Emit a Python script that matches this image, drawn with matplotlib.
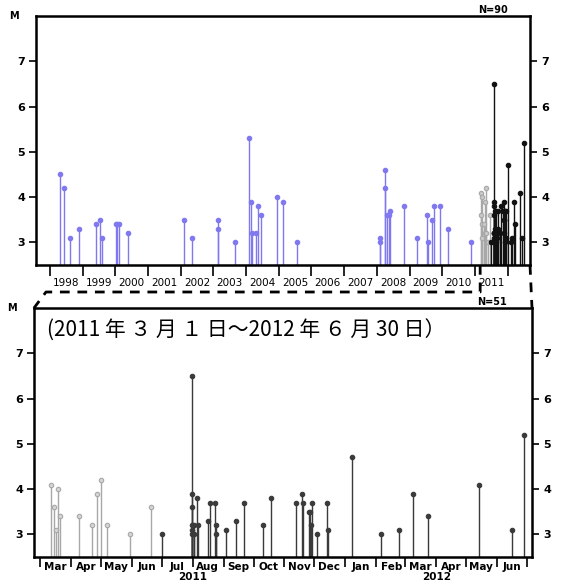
#!/usr/bin/env python3
"""Earthquake magnitude-time plot: 1998-2012 overview and 2011-03 .. 2012-06 zoom."""

import matplotlib
matplotlib.use("Agg")
import matplotlib.pyplot as plt
import matplotlib.dates as mdates
from matplotlib.lines import Line2D
import pandas as pd

# background events 1998 - 2010 (blue)
old_dates = [
    "1998-04-23", "1998-06-10", "1998-08-11", "1998-11-24",
    "1999-05-26", "1999-07-13", "1999-07-31",
    "2000-01-03", "2000-01-24", "2000-02-14", "2000-05-16",
    "2002-02-07", "2002-05-05",
    "2003-02-21", "2003-02-21", "2003-09-02",
    "2004-01-30", "2004-02-21", "2004-03-10", "2004-04-23", "2004-05-11",
    "2004-06-17", "2004-12-13",
    "2005-02-14", "2005-07-20",
    "2008-02-10", "2008-02-10", "2008-04-01", "2008-04-01", "2008-04-27",
    "2008-05-11", "2008-05-30", "2008-11-03",
    "2009-03-22", "2009-07-13", "2009-07-31", "2009-09-06", "2009-10-05",
    "2009-12-02",
    "2010-03-04", "2010-11-24",
]
old_mags = [
    4.5, 4.2, 3.1, 3.3,
    3.4, 3.5, 3.1,
    3.4, 3.4, 3.4, 3.2,
    3.5, 3.1,
    3.5, 3.3, 3.0,
    5.3, 3.9, 3.2, 3.2, 3.8,
    3.6, 4.0,
    3.9, 3.0,
    3.1, 3.0, 4.6, 4.2, 3.6,
    3.6, 3.7, 3.8,
    3.1, 3.6, 3.0, 3.5, 3.8,
    3.8,
    3.3, 3.0,
]

# events after 2011-03-01, early group (Mar - Jun 2011, light grey)
early_dates = [
    "2011-03-12", "2011-03-15", "2011-03-17", "2011-03-19", "2011-03-21",
    "2011-04-09", "2011-04-22", "2011-04-27", "2011-05-01", "2011-05-07",
    "2011-05-30", "2011-06-20",
]
early_mags = [4.1, 3.6, 3.1, 4.0, 3.4, 3.4, 3.2, 3.9, 4.2, 3.2, 3.0, 3.6]

# late group (Jul 2011 - Jun 2012, dark)
late_dates = [
    "2011-07-01",
    "2011-07-31", "2011-07-31", "2011-07-31", "2011-07-31", "2011-07-31",
    "2011-07-31", "2011-08-02", "2011-08-02",
    "2011-08-05", "2011-08-06", "2011-08-16", "2011-08-18", "2011-08-23",
    "2011-08-24", "2011-08-24",
    "2011-09-03", "2011-09-13", "2011-09-21",
    "2011-10-10", "2011-10-18",
    "2011-11-13", "2011-11-19", "2011-11-20", "2011-11-26", "2011-11-27",
    "2011-11-28", "2011-11-29",
    "2011-12-04", "2011-12-14", "2011-12-15",
    "2012-01-08",
    "2012-02-06", "2012-02-24", "2012-03-09", "2012-03-24", "2012-05-14",
    "2012-06-16", "2012-06-28",
]
late_mags = [
    3.0,
    6.5, 3.9, 3.6, 3.2, 3.1,
    3.0, 3.2, 3.0,
    3.8, 3.2, 3.3, 3.7, 3.7,
    3.2, 3.0,
    3.1, 3.3, 3.7,
    3.2, 3.8,
    3.7, 3.9, 3.7, 3.5, 3.5,
    3.2, 3.7,
    3.0, 3.7, 3.1,
    4.7,
    3.0, 3.1, 3.9, 3.4, 4.1,
    3.1, 5.2,
]

years = list(range(1998, 2012))
year_ticks = list(range(1998, 2013))
mag_ticks = [3, 4, 5, 6, 7]
jp_title = "(2011 年 ３ 月 １ 日～2012 年 ６ 月 30 日）"

BLUE = "#8078ee"
LIGHT = "#a8a8a8"
DARK = "#3a3a3a"
YMIN, YMAX = 2.5, 8.0

W, H = 562, 582
fig = plt.figure(figsize=(W / 100, H / 100), dpi=100)
fig.patch.set_facecolor("white")


def px_rect(x0, y0, x1, y1):
    return [x0 / W, 1 - y1 / H, (x1 - x0) / W, (y1 - y0) / H]


def stems(ax, dates, mags, color, face=None, ms=3.2):
    d = pd.to_datetime(dates)
    ax.vlines(d, YMIN, mags, colors=color, lw=1.0, zorder=2)
    ax.plot(d, mags, "o", ms=ms, color=color, mfc=face or color, mec=color,
            mew=0.8, zorder=3)


def style_axes(ax):
    for sp in ax.spines.values():
        sp.set_linewidth(1.8)
    ax.set_ylim(YMIN, YMAX)
    ax.set_yticks(mag_ticks)
    ax.tick_params(axis="y", which="major", direction="out", length=5,
                   width=1.2, labelsize=8, left=True, right=True,
                   labelleft=True, labelright=True, pad=3)
    for lab in ax.get_yticklabels():
        lab.set_fontweight("bold")
    ax.tick_params(axis="x", which="major", direction="out", length=8,
                   width=1.2, labelbottom=False)
    ax.tick_params(axis="x", which="minor", length=0, labelsize=7.5)


# ---- top panel: whole period
ax1 = fig.add_axes(px_rect(36, 16, 530, 265))
stems(ax1, old_dates, old_mags, BLUE)
stems(ax1, early_dates, early_mags, LIGHT, face="#c8c8c8")
stems(ax1, late_dates, late_mags, "#111111")
ax1.set_xlim(pd.Timestamp("1997-07-28"), pd.Timestamp("2012-09-08"))
style_axes(ax1)
ax1.set_xticks(pd.to_datetime([f"{y}-01-01" for y in year_ticks]))
ax1.set_xticks(pd.to_datetime([f"{y}-07-02" for y in years]), minor=True)
ax1.set_xticklabels([str(y) for y in years], minor=True)
ax1.tick_params(axis="x", which="minor", pad=9.5)
ax1.text(-0.045, 1.0, "M", transform=ax1.transAxes, fontsize=7,
         fontweight="bold", ha="center", va="center")
ax1.text(0.925, 1.005, "N=90", transform=ax1.transAxes, fontsize=7,
         fontweight="bold", ha="center", va="bottom")

# ---- bottom panel: zoom after 2011-03-01
ax2 = fig.add_axes(px_rect(34, 308, 532, 557))
stems(ax2, early_dates, early_mags, LIGHT, face="#d4d4d4")
stems(ax2, late_dates, late_mags, DARK)
ax2.set_xlim(pd.Timestamp("2011-02-23"), pd.Timestamp("2012-07-06"))
style_axes(ax2)
ax2.xaxis.set_major_locator(mdates.MonthLocator())
ax2.xaxis.set_minor_locator(mdates.MonthLocator(bymonthday=16))
ax2.xaxis.set_minor_formatter(mdates.DateFormatter("%b"))
ax2.tick_params(axis="x", which="major", length=7)
ax2.tick_params(axis="x", which="minor", labelsize=7.5, pad=3.5)
for lab in ax2.get_xticklabels(minor=True):
    lab.set_fontweight("bold")
for yr, mid in [("2011", "2011-08-01"), ("2012", "2012-04-01")]:
    ax2.text(pd.Timestamp(mid), -0.08, yr, transform=ax2.get_xaxis_transform(),
             fontsize=7.5, fontweight="bold", ha="center", va="center")
ax2.text(-0.045, 1.0, "M", transform=ax2.transAxes, fontsize=7,
         fontweight="bold", ha="center", va="center")
ax2.text(0.92, 1.005, "N=51", transform=ax2.transAxes, fontsize=7,
         fontweight="bold", ha="center", va="bottom")
ax2.text(0.026, 0.91, jp_title, transform=ax2.transAxes, fontsize=15,
         family=["Noto Sans CJK JP", "DejaVu Sans"], ha="left", va="center")

# ---- dashed zoom connectors
fig.canvas.draw()
inv = fig.transFigure.inverted()
start = inv.transform(ax1.transData.transform(
    (mdates.date2num(pd.Timestamp("2011-03-01")), YMIN)))
right_top = inv.transform(ax1.transAxes.transform((1, 0)))
left_bot = inv.transform(ax2.transAxes.transform((0, 1)))
right_bot = inv.transform(ax2.transAxes.transform((1, 1)))
bend_y = 1 - 292 / H
bend_x = 46 / W
dash = (0, (3.5, 2.8))
fig.add_artist(Line2D([start[0], start[0], bend_x, left_bot[0]],
                      [start[1], bend_y, bend_y, left_bot[1]],
                      transform=fig.transFigure, color="black", lw=2.0, ls=dash))
fig.add_artist(Line2D([right_top[0], right_bot[0]], [right_top[1], right_bot[1]],
                      transform=fig.transFigure, color="black", lw=2.0, ls=dash))

fig.savefig("out.png", dpi=100, facecolor="white")
